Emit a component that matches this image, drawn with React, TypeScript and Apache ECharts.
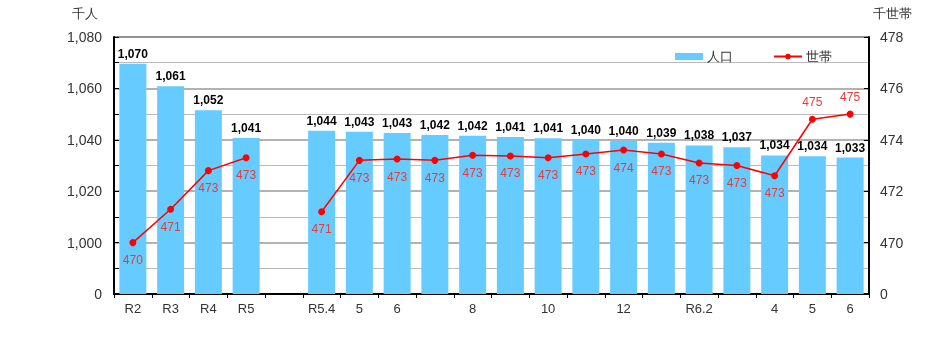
import React, { useEffect, useRef } from "react";
import * as echarts from "echarts";

const categories = ["R2", "R3", "R4", "R5", "", "R5.4", "5", "6", "7", "8", "9", "10", "11", "12", "1", "R6.2", "3", "4", "5", "6"];
const tickLabels = ["R2", "R3", "R4", "R5", "", "R5.4", "5", "6", "", "8", "", "10", "", "12", "", "R6.2", "", "4", "5", "6"];
const population = [1069.6, 1060.8, 1051.5, 1040.7, null, 1043.5, 1043.1, 1042.6, 1041.9, 1041.6, 1041.1, 1040.6, 1039.9, 1039.6, 1038.9, 1037.8, 1037.1, 1033.9, 1033.6, 1033.1];
const households = [470.0, 471.3, 472.8, 473.3, null, 471.2, 473.2, 473.25, 473.2, 473.4, 473.37, 473.3, 473.45, 473.6, 473.45, 473.1, 473.0, 472.6, 474.8, 475.0];
const leftTicks = [980, 1000, 1020, 1040, 1060, 1080];
const rightTicks = [468, 470, 472, 474, 476, 478];

const fmt = (v: number) => Math.round(v).toLocaleString("en-US");

export default function App() {
  const ref = useRef<HTMLDivElement>(null);
  useEffect(() => {
    const chart = echarts.init(ref.current!, null, { renderer: "svg" });
    const font = "'Liberation Sans', Arial, sans-serif";
    chart.setOption({
      animation: false,
      textStyle: { fontFamily: font },
      grid: { left: 114, right: 63, top: 37, bottom: 65, show: true, borderColor: "#000", borderWidth: 1, backgroundColor: "transparent" },
      legend: {
        left: 670,
        top: 45,
        itemWidth: 28,
        itemHeight: 7,
        itemGap: 40,
        textStyle: { fontSize: 13, color: "#333", fontFamily: font, padding: [0, 0, 0, -1] },
        data: [{ name: "人口", icon: "rect" }, { name: "世帯" }],
      },
      graphic: [
        { type: "text", left: 72, top: 7, style: { text: "千人", fontSize: 13, fill: "#333", fontFamily: font } },
        { type: "text", left: 873, top: 7, style: { text: "千世帯", fontSize: 13, fill: "#333", fontFamily: font } },
      ],
      xAxis: {
        type: "category",
        data: categories,
        axisLine: { lineStyle: { color: "#000", width: 2 } },
        axisTick: { show: true, length: 4, lineStyle: { color: "#000" } },
        axisLabel: {
          interval: 0,
          margin: 8,
          fontSize: 13,
          color: "#333",
          formatter: (_v: string, i: number) => tickLabels[i],
        },
      },
      yAxis: [
        {
          type: "value",
          min: leftTicks[0],
          max: leftTicks[leftTicks.length - 1],
          interval: 20,
          axisLine: { show: true, lineStyle: { color: "#000", width: 2 } },
          axisTick: { show: true, inside: true, length: 5, lineStyle: { color: "#000" } },
          minorTick: { show: true, splitNumber: 2, length: 5, lineStyle: { color: "#000" } },
          splitLine: { show: true, lineStyle: { color: "#999", width: 1.5 } },
          minorSplitLine: { show: true, lineStyle: { color: "#bbb", width: 1.2 } },
          axisLabel: {
            margin: 12,
            fontSize: 14,
            color: "#333",
            formatter: (v: number) => (v === leftTicks[0] ? "0" : fmt(v)),
          },
        },
        {
          type: "value",
          min: rightTicks[0],
          max: rightTicks[rightTicks.length - 1],
          interval: 2,
          axisLine: { show: true, lineStyle: { color: "#000", width: 2 } },
          axisTick: { show: true, inside: true, length: 5, lineStyle: { color: "#000" } },
          splitLine: { show: false },
          axisLabel: {
            margin: 11,
            fontSize: 14,
            color: "#333",
            formatter: (v: number) => (v === rightTicks[0] ? "0" : String(v)),
          },
        },
      ],
      series: [
        {
          name: "人口",
          type: "bar",
          yAxisIndex: 0,
          barWidth: 27,
          data: population,
          itemStyle: { color: "#66CCFF" },
          label: {
            show: true,
            position: "top",
            distance: 4,
            fontSize: 12,
            fontWeight: "bold",
            color: "#000",
            fontFamily: font,
            formatter: (p: any) => fmt(p.value),
          },
        },
        {
          name: "世帯",
          type: "line",
          yAxisIndex: 1,
          connectNulls: false,
          symbol: "circle",
          symbolSize: 7,
          lineStyle: { color: "#FF0000", width: 1.5 },
          itemStyle: { color: "#FF0000" },
          data: households.map((v, i) => ({
            value: v,
            label: { position: i >= 18 ? "top" : "bottom" },
          })),
          label: {
            show: true,
            position: "bottom",
            distance: 8,
            fontSize: 12,
            color: "#E83A3A",
            fontFamily: font,
            formatter: (p: any) => String(Math.round(p.value)),
          },
        },
      ],
    });
    return () => chart.dispose();
  }, []);
  return <div ref={ref} style={{ position: "fixed", left: 0, top: 0, width: 932, height: 359 }} />;
}
